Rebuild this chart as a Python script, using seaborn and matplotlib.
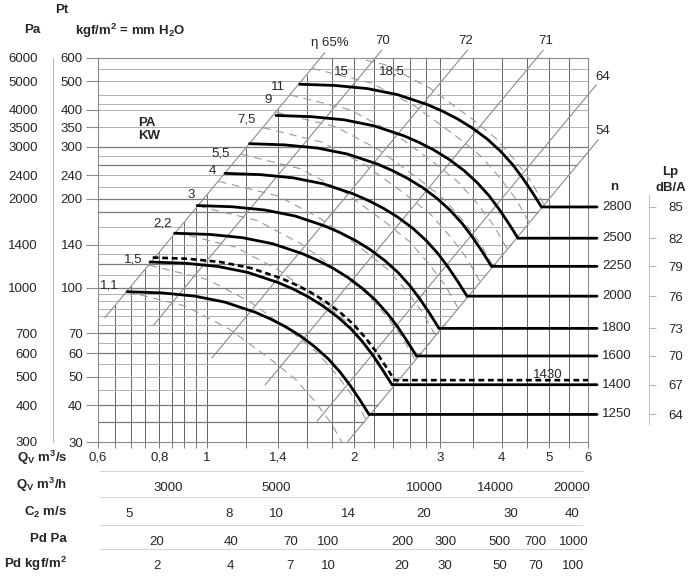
import numpy as np
import pandas as pd
import matplotlib
matplotlib.use("Agg")
import matplotlib.pyplot as plt
import matplotlib.transforms as mtransforms
from matplotlib.ticker import FixedLocator, FixedFormatter, NullFormatter, NullLocator
import seaborn as sns

sns.set_theme(style="white")
plt.rcParams['font.family'] = ['Liberation Sans', 'DejaVu Sans']
plt.rcParams['mathtext.fontset'] = 'custom'
plt.rcParams['mathtext.rm'] = 'Liberation Sans'
plt.rcParams['mathtext.bf'] = 'Liberation Sans:bold'
plt.rcParams['mathtext.it'] = 'Liberation Sans:italic'
plt.rcParams['axes.unicode_minus'] = False

# ---------------- data ----------------
speed_rpm = [1250, 1400, 1600, 1800, 2000, 2250, 2500, 2800]
lp_dba = [64, 67, 70, 73, 76, 79, 82, 85]

q_1250 = [0.688, 0.811, 0.946, 1.090, 1.255, 1.346, 1.445, 1.550, 1.663, 1.768, 1.871, 1.961, 2.055, 2.144]
pt_1250 = [96.9, 96.0, 93.6, 89.3, 82.6, 78.5, 73.9, 68.8, 63.0, 57.5, 51.8, 46.7, 41.6, 37.2]
q_1400 = [0.766, 0.904, 1.054, 1.214, 1.398, 1.500, 1.610, 1.727, 1.853, 1.970, 2.084, 2.185, 2.289, 2.389]
pt_1400 = [122.2, 121.0, 118.0, 112.6, 104.1, 99.0, 93.2, 86.7, 79.4, 72.5, 65.3, 58.9, 52.4, 46.9]
q_1430 = [0.776, 0.914, 1.066, 1.229, 1.415, 1.517, 1.629, 1.747, 1.875, 1.993, 2.109, 2.211, 2.317, 2.417]
pt_1430 = [126.5, 125.3, 122.2, 116.6, 107.8, 102.5, 96.5, 89.8, 82.3, 75.1, 67.6, 61.0, 54.3, 48.6]
q_1600 = [0.860, 1.014, 1.183, 1.363, 1.569, 1.683, 1.807, 1.938, 2.079, 2.210, 2.339, 2.452, 2.569, 2.680]
pt_1600 = [152.9, 151.5, 147.7, 140.9, 130.3, 123.8, 116.6, 108.5, 99.4, 90.7, 81.7, 73.7, 65.6, 58.7]
q_1800 = [0.956, 1.127, 1.314, 1.515, 1.744, 1.870, 2.008, 2.154, 2.311, 2.457, 2.600, 2.725, 2.855, 2.979]
pt_1800 = [189.8, 188.0, 183.3, 174.9, 161.7, 153.7, 144.7, 134.7, 123.4, 112.6, 101.4, 91.4, 81.5, 72.8]
q_2000 = [1.090, 1.285, 1.499, 1.728, 1.989, 2.133, 2.290, 2.457, 2.636, 2.802, 2.965, 3.108, 3.257, 3.398]
pt_2000 = [243.9, 241.6, 235.7, 224.9, 208.0, 197.7, 186.1, 173.2, 158.7, 144.7, 130.4, 117.5, 104.7, 93.6]
q_2250 = [1.223, 1.441, 1.683, 1.938, 2.231, 2.394, 2.569, 2.757, 2.958, 3.144, 3.327, 3.487, 3.655, 3.813]
pt_2250 = [307.5, 304.7, 297.2, 283.6, 262.3, 249.2, 234.7, 218.4, 200.1, 182.4, 164.5, 148.2, 132.0, 118.1]
q_2500 = [1.385, 1.632, 1.906, 2.195, 2.527, 2.712, 2.910, 3.122, 3.350, 3.561, 3.768, 3.949, 4.139, 4.318]
pt_2500 = [383.3, 379.7, 370.5, 353.4, 326.9, 310.6, 292.5, 272.2, 249.4, 227.3, 205.0, 184.7, 164.5, 147.1]
q_2800 = [1.547, 1.823, 2.129, 2.451, 2.822, 3.028, 3.250, 3.487, 3.742, 3.977, 4.208, 4.410, 4.623, 4.822]
pt_2800 = [488.9, 484.4, 472.6, 450.8, 417.0, 396.2, 373.1, 347.2, 318.2, 290.0, 261.5, 235.6, 209.8, 187.7]

# motor power curves (kW), grey dashed
kw_labels = ["1,1", "1,5", "2,2", "3", "4", "5,5", "7,5", "9", "11", "15", "18,5"]
kw_q_1_1 = [0.688, 0.908, 1.113, 1.350, 1.516, 1.656, 1.794, 1.906]
kw_pt_1_1 = [96.9, 86.5, 72.3, 57.2, 49.0, 41.5, 34.8, 29.1]
kw_q_1_5 = [0.763, 1.007, 1.234, 1.497, 1.681, 1.837, 1.990, 2.114]
kw_pt_1_5 = [119.2, 106.4, 88.9, 70.4, 60.3, 51.0, 42.8, 35.8]
kw_q_2_2 = [0.867, 1.144, 1.402, 1.701, 1.910, 2.087, 2.260, 2.402]
kw_pt_2_2 = [153.8, 137.3, 114.8, 90.8, 77.8, 65.9, 55.2, 46.2]
kw_q_3 = [0.961, 1.268, 1.555, 1.886, 2.118, 2.313, 2.506, 2.663]
kw_pt_3 = [189.1, 168.8, 141.1, 111.6, 95.6, 81.0, 67.9, 56.8]
kw_q_4 = [1.058, 1.397, 1.712, 2.076, 2.332, 2.547, 2.759, 2.931]
kw_pt_4 = [229.2, 204.6, 171.0, 135.3, 115.9, 98.2, 82.3, 68.8]
kw_q_5_5 = [1.176, 1.553, 1.903, 2.309, 2.592, 2.832, 3.068, 3.259]
kw_pt_5_5 = [283.3, 252.9, 211.4, 167.3, 143.3, 121.3, 101.8, 85.1]
kw_q_7_5 = [1.304, 1.722, 2.110, 2.560, 2.874, 3.140, 3.401, 3.614]
kw_pt_7_5 = [348.3, 311.0, 259.9, 205.6, 176.1, 149.2, 125.1, 104.6]
kw_q_9 = [1.386, 1.830, 2.243, 2.720, 3.055, 3.337, 3.615, 3.841]
kw_pt_9 = [393.4, 351.2, 293.6, 232.2, 198.9, 168.5, 141.3, 118.1]
kw_q_11 = [1.482, 1.956, 2.397, 2.908, 3.266, 3.567, 3.864, 4.106]
kw_pt_11 = [449.6, 401.3, 335.5, 265.4, 227.3, 192.5, 161.5, 135.0]
kw_q_15 = [1.644, 2.169, 2.659, 3.225, 3.622, 3.956, 4.286, 4.553]
kw_pt_15 = [553.0, 493.7, 412.6, 326.5, 279.7, 236.9, 198.6, 166.1]
kw_q_18_5 = [1.763, 2.326, 2.852, 3.459, 3.884, 4.243, 4.596, 4.883]
kw_pt_18_5 = [636.1, 567.8, 474.6, 375.5, 321.6, 272.4, 228.4, 191.0]

# efficiency lines (system parabolas)
eta_labels = ["\u03b7 65%", "70", "72", "71", "64", "54"]
eta_q_from = [0.62, 0.777, 1.025, 1.316, 1.68, 1.94]
eta_pt_from = [79.2, 74.3, 57.8, 46.8, 35.3, 30.1]
eta_q_to = [1.742, 2.277, 3.406, 4.861, 6.24, 6.30]
eta_pt_to = [625, 638, 638, 638, 487, 317.5]

# grid
q_grid = [0.65, 0.7, 0.75, 0.8, 0.85, 0.9, 0.95, 1.0, 1.2, 1.4, 1.6, 1.8, 2.0,
          2.2, 2.4, 2.6, 2.8, 3.0, 3.5, 4.0, 4.5, 5.0, 5.5]
pt_grid = [35, 40, 45, 50, 55, 60, 65, 70, 75, 80, 85, 90, 95, 100, 110, 120, 130,
           140, 160, 180, 200, 220, 240, 260, 280, 300, 350, 400, 420, 450, 500, 550]
pt_grid_dark = [35, 40, 60, 70, 100, 120, 180, 200, 260, 300]

# axis tick values
q_ticks = [0.6, 0.8, 1, 1.4, 2, 3, 4, 5, 6]
q_tick_labels = ["0,6", "0,8", "1", "1,4", "2", "3", "4", "5", "6"]
pt_ticks = [30, 40, 50, 60, 70, 100, 140, 200, 240, 300, 350, 400, 500, 600]
pa_ticks = [300, 400, 500, 600, 700, 1000, 1400, 2000, 2400, 3000, 3500, 4000, 5000, 6000]
pa_minor = [350, 450, 550, 650, 800, 900, 1100, 1200, 1600, 1800, 2200, 2600, 2800,
            3200, 3700, 4500, 5500]
qh_ticks = [3000, 5000, 10000, 14000, 20000]
qh_minor = [2200, 2400, 2600, 2800, 3500, 4000, 4500, 6000, 7000, 8000, 9000,
            12000, 16000, 18000]
c2_ticks = [5, 8, 10, 14, 20, 30, 40]
c2_minor = [4.5, 5.5, 6, 6.5, 7, 7.5, 9, 11, 12, 13, 16, 18, 22, 24, 26, 28, 32, 35, 38, 42]
pdpa_ticks = [20, 40, 70, 100, 200, 300, 500, 700, 1000]
pdpa_minor = [12, 14, 16, 18, 25, 30, 35, 50, 60, 80, 90, 120, 140, 160, 180, 250,
              350, 400, 450, 600, 800, 900]
pdkgf_ticks = [2, 4, 7, 10, 20, 30, 50, 70, 100]
pdkgf_minor = [1.2, 1.4, 1.6, 1.8, 2.5, 3, 3.5, 5, 6, 8, 9, 12, 14, 16, 18, 25,
               35, 40, 45, 60, 80, 90]
m3h_per_m3s = 3600.0
c2_per_m3s = 7.2
pdpa_per_q2 = 31.9
pdkgf_per_q2 = 3.19

# ---------------- figure ----------------
W, H = 695, 580
fig = plt.figure(figsize=(W / 100, H / 100), dpi=100)
fig.patch.set_facecolor('white')
FS = 9.5


def fx(x):
    return x / W


def fy(y):
    return 1 - y / H


X0, X1, Y0, Y1 = 98, 588, 58, 442
ax = fig.add_axes([fx(X0), fy(Y1), (X1 - X0) / W, (Y1 - Y0) / H])
ax.set_xscale('log')
ax.set_yscale('log')
ax.set_xlim(0.6, 6.0)
ax.set_ylim(30, 600)
ax.patch.set_visible(False)

c_top = eta_pt_to[0] / eta_q_to[0] ** 2
c_low = eta_pt_to[-1] / eta_q_to[-1] ** 2

for q in q_grid:
    ax.plot([q, q], [30, min(600, c_top * q * q)], color='#4a4a4a', lw=0.6, zorder=1)
for p in pt_grid:
    right = min(6.0, float(np.sqrt(p / c_low)))
    dark = p in pt_grid_dark
    ax.plot([0.6, right], [p, p], color='#7a7a7a' if dark else '#b0b0b0',
            lw=0.9 if dark else 0.7, zorder=1)

for i in range(len(eta_labels)):
    ax.plot([eta_q_from[i], eta_q_to[i]], [eta_pt_from[i], eta_pt_to[i]],
            color='#8c8c8c', lw=0.8, clip_on=False, zorder=2)

kw_curves = [(kw_q_1_1, kw_pt_1_1), (kw_q_1_5, kw_pt_1_5), (kw_q_2_2, kw_pt_2_2),
             (kw_q_3, kw_pt_3), (kw_q_4, kw_pt_4), (kw_q_5_5, kw_pt_5_5),
             (kw_q_7_5, kw_pt_7_5), (kw_q_9, kw_pt_9), (kw_q_11, kw_pt_11),
             (kw_q_15, kw_pt_15), (kw_q_18_5, kw_pt_18_5)]
for qk, pk in kw_curves:
    ax.plot(qk, pk, color='#999999', lw=0.8, ls=(0, (7, 5)), zorder=2)

fan_curves = [(q_1250, pt_1250), (q_1400, pt_1400), (q_1600, pt_1600),
              (q_1800, pt_1800), (q_2000, pt_2000), (q_2250, pt_2250),
              (q_2500, pt_2500), (q_2800, pt_2800)]
Q_LINE_END = 6.26
for qc, pc in fan_curves:
    df = pd.DataFrame({'q': qc + [Q_LINE_END], 'pt': pc + [pc[-1]]})
    sns.lineplot(data=df, x='q', y='pt', ax=ax, color='black', lw=2.0,
                 sort=False, estimator=None, zorder=4)
    ax.lines[-1].set_clip_on(False)
    ax.lines[-1].set_solid_joinstyle('miter')

df1430 = pd.DataFrame({'q': q_1430 + [6.0], 'pt': pt_1430 + [pt_1430[-1]]})
sns.lineplot(data=df1430, x='q', y='pt', ax=ax, color='black', lw=1.9,
             sort=False, estimator=None, zorder=4, linestyle=(0, (2.2, 1.4)))

ax.set_xlim(0.6, 6.0)
ax.set_ylim(30, 600)
ax.set_xlabel('')
ax.set_ylabel('')
for s in ax.spines.values():
    s.set_color('#8a8a8a')
    s.set_linewidth(0.8)
    s.set_zorder(1)

ax.xaxis.set_major_locator(FixedLocator(q_ticks))
ax.xaxis.set_major_formatter(FixedFormatter(q_tick_labels))
ax.xaxis.set_minor_locator(FixedLocator(q_grid))
ax.xaxis.set_minor_formatter(NullFormatter())
ax.yaxis.set_major_locator(FixedLocator(pt_ticks))
ax.yaxis.set_major_formatter(FixedFormatter([str(v) for v in pt_ticks]))
ax.yaxis.set_minor_locator(NullLocator())
ax.tick_params(axis='x', which='both', direction='out', length=4, width=0.7,
               color='#777777', labelsize=FS, pad=3, bottom=True)
ax.tick_params(axis='y', which='major', direction='out', length=9, width=0.8,
               color='#8a8a8a', labelsize=FS, pad=2, left=True)

# Pa axis on the far left
ax_pa = fig.add_axes([fx(53), fy(Y1), 0.0001, (Y1 - Y0) / H])
ax_pa.set_yscale('log')
ax_pa.set_ylim(300, 6000)
ax_pa.patch.set_visible(False)
for s in ['top', 'bottom', 'right']:
    ax_pa.spines[s].set_visible(False)
ax_pa.spines['left'].set_color('#b5b5b5')
ax_pa.spines['left'].set_linewidth(0.7)
ax_pa.set_xticks([])
ax_pa.yaxis.set_major_locator(FixedLocator(pa_ticks))
ax_pa.yaxis.set_major_formatter(FixedFormatter([str(v) for v in pa_ticks]))
ax_pa.yaxis.set_minor_locator(FixedLocator(pa_minor))
ax_pa.yaxis.set_minor_formatter(NullFormatter())
ax_pa.tick_params(axis='y', which='major', direction='out', length=6, width=0.7,
                  color='#999999', labelsize=FS, pad=5)
ax_pa.tick_params(axis='y', which='minor', direction='out', length=3, width=0.6,
                  color='#aaaaaa')

# Lp axis on the right
n_line_pt = [pt_1250[-1], pt_1400[-1], pt_1600[-1], pt_1800[-1], pt_2000[-1],
             pt_2250[-1], pt_2500[-1], pt_2800[-1]]
ax_lp = fig.add_axes([fx(649), fy(Y1), 0.0001, (Y1 - Y0) / H])
ax_lp.set_yscale('log')
ax_lp.set_ylim(30, 600)
ax_lp.patch.set_visible(False)
for s in ['top', 'bottom', 'left']:
    ax_lp.spines[s].set_visible(False)
ax_lp.spines['right'].set_color('#c0c0c0')
ax_lp.spines['right'].set_linewidth(0.7)
ax_lp.spines['right'].set_bounds(34.5, 206)
ax_lp.set_xticks([])
ax_lp.yaxis.tick_right()
ax_lp.yaxis.set_major_locator(FixedLocator(n_line_pt))
ax_lp.yaxis.set_major_formatter(FixedFormatter([str(v) for v in lp_dba]))
ax_lp.yaxis.set_minor_locator(NullLocator())
ax_lp.tick_params(axis='y', which='major', direction='out', length=5, width=0.6,
                  color='#aaaaaa', labelsize=FS, pad=9)

# n labels
blend = mtransforms.blended_transform_factory(fig.transFigure, ax.transData)
for n, p in zip(speed_rpm, n_line_pt):
    ax.text(fx(617), p, str(n), transform=blend, ha='center', va='center', fontsize=FS)
fig.text(fx(548), fy(375), "1430", ha='center', va='center', fontsize=FS)


# bottom scales
def row_axis(yline, lo, hi, major, minor):
    a = fig.add_axes([fx(X0 + 2), fy(yline), (X1 - X0 - 7) / W, 0.0001])
    a.set_xscale('log')
    span = np.log10(hi / lo)
    a.set_xlim(lo * 10 ** (span * 2 / (X1 - X0)), hi * 10 ** (-span * 5 / (X1 - X0)))
    a.patch.set_visible(False)
    a.set_yticks([])
    for s in ['top', 'left', 'right']:
        a.spines[s].set_visible(False)
    a.spines['bottom'].set_color('#cccccc')
    a.spines['bottom'].set_linewidth(0.6)
    a.xaxis.set_major_locator(FixedLocator(major))
    a.xaxis.set_major_formatter(FixedFormatter([str(v) for v in major]))
    a.xaxis.set_minor_locator(FixedLocator(minor))
    a.xaxis.set_minor_formatter(NullFormatter())
    a.tick_params(axis='x', which='major', direction='out', length=5, width=0.7,
                  color='#999999', labelsize=FS, pad=3)
    a.tick_params(axis='x', which='minor', direction='out', length=4, width=0.6,
                  color='#b0b0b0')
    return a


row_axis(471, 0.6 * m3h_per_m3s, 6.0 * m3h_per_m3s, qh_ticks, qh_minor)
row_axis(497, 0.6 * c2_per_m3s, 6.0 * c2_per_m3s, c2_ticks, c2_minor)
row_axis(525, pdpa_per_q2 * 0.36, pdpa_per_q2 * 36, pdpa_ticks, pdpa_minor)
row_axis(549, pdkgf_per_q2 * 0.36, pdkgf_per_q2 * 36, pdkgf_ticks, pdkgf_minor)

# row titles
row_titles = [(458, r"Q$_{\mathbf{V}}$ m$^{\mathbf{3}}$/s"),
              (485, r"Q$_{\mathbf{V}}$ m$^{\mathbf{3}}$/h"),
              (512, r"C$_{\mathbf{2}}$ m/s"),
              (539, "Pd Pa"),
              (564, r"Pd kgf/m$^{\mathbf{2}}$")]
for yy, t in row_titles:
    fig.text(fx(67), fy(yy), t, ha='right', va='center', fontsize=FS, fontweight='bold')

# headers
fig.text(fx(62), fy(10), "Pt", ha='center', va='center', fontsize=FS, fontweight='bold')
fig.text(fx(32), fy(30), "Pa", ha='center', va='center', fontsize=FS, fontweight='bold')
fig.text(fx(75), fy(31), r"kgf/m$^{\mathbf{2}}$ = mm H$_{\mathbf{2}}$O", ha='left', va='center',
         fontsize=FS, fontweight='bold')
fig.text(fx(138), fy(123), "PA", ha='left', va='center', fontsize=FS, fontweight='bold')
fig.text(fx(138), fy(136), "KW", ha='left', va='center', fontsize=FS, fontweight='bold')
fig.text(fx(614), fy(187), "n", ha='center', va='center', fontsize=FS, fontweight='bold')
fig.text(fx(670), fy(172), "Lp", ha='center', va='center', fontsize=FS, fontweight='bold')
fig.text(fx(671), fy(188), "dB/A", ha='center', va='center', fontsize=FS, fontweight='bold')

# efficiency labels
eta_label_px = [(330, 43), (383, 41), (466, 41), (546, 41), (603, 77), (603, 131)]
for lab, (xx, yy) in zip(eta_labels, eta_label_px):
    fig.text(fx(xx), fy(yy), lab, ha='center', va='center', fontsize=FS)

# kW labels
kw_label_px = [(109, 286), (133, 259), (162, 224), (191, 195), (212, 171), (221, 153),
               (247, 120), (268, 100), (278, 87), (341, 72), (392, 72)]
for lab, (xx, yy) in zip(kw_labels, kw_label_px):
    fig.text(fx(xx), fy(yy), lab, ha='center', va='center', fontsize=FS)

fig.savefig("out.png", dpi=100, facecolor='white')
